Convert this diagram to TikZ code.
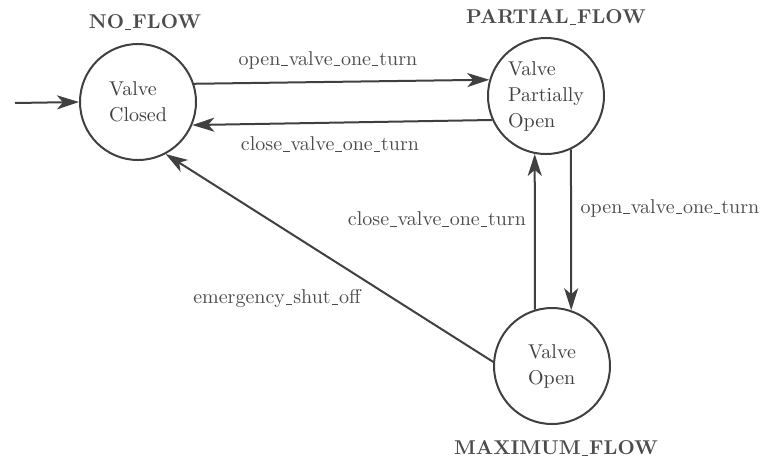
\documentclass[tikz,border=0pt]{standalone}
\usetikzlibrary{arrows.meta}
% a narrow underscore for identifiers
\newcommand\usc{\kern0.05em\rule[-0.15ex]{0.32em}{0.45pt}\kern0.05em}
\begin{document}
\begin{tikzpicture}[x=0.5pt,y=-0.5pt,
  state/.style={circle,draw=black!75,line width=1pt,minimum size=58pt,inner sep=0pt,
    align=left,font=\fontsize{10}{13}\selectfont,text=black!75},
  statename/.style={font=\bfseries\fontsize{10}{12}\selectfont,text=black!70},
  trans/.style={draw=black!75,line width=1pt,
    -{Stealth[length=11pt,width=7pt,inset=3pt]}},
  lbl/.style={font=\fontsize{10}{12}\selectfont,text=black!70,inner sep=0pt}]
\useasboundingbox (0,0) rectangle (761,462);

% the three valve states
\node[state] (nf) at (138,102) {Valve\\Closed};
\node[state] (pf) at (546,96) {Valve\\Partially\\Open};
\node[state] (mf) at (552,366) {Valve\\Open};

% state names
\node[statename] (nfname) at (145,22) {NO\usc FLOW};
\node[statename] (pfname) at (556,17) {PARTIAL\usc FLOW};
\node[statename] (mfname) at (556,448) {MAXIMUM\usc FLOW};

% initial transition
\coordinate (start) at (15,103);
\draw[trans] (start) -- (nf.west);

% transitions between states
\draw[trans] (nf.18) -- (pf.164);
\draw[trans] (pf.204) -- (nf.337);
\draw[trans] (mf.107) -- (pf.259);
\draw[trans] (pf.295) -- (mf.71);
\draw[trans] (mf.176) -- (nf.298);

% transition labels
\node[lbl] (l1) at (328,60) {open\usc valve\usc one\usc turn};
\node[lbl] (l2) at (330,144) {close\usc valve\usc one\usc turn};
\node[lbl] (l3) at (437,219) {close\usc valve\usc one\usc turn};
\node[lbl] (l4) at (670,208) {open\usc valve\usc one\usc turn};
\node[lbl] (l5) at (277,299) {emergency\usc shut\usc off};
\end{tikzpicture}
\end{document}
